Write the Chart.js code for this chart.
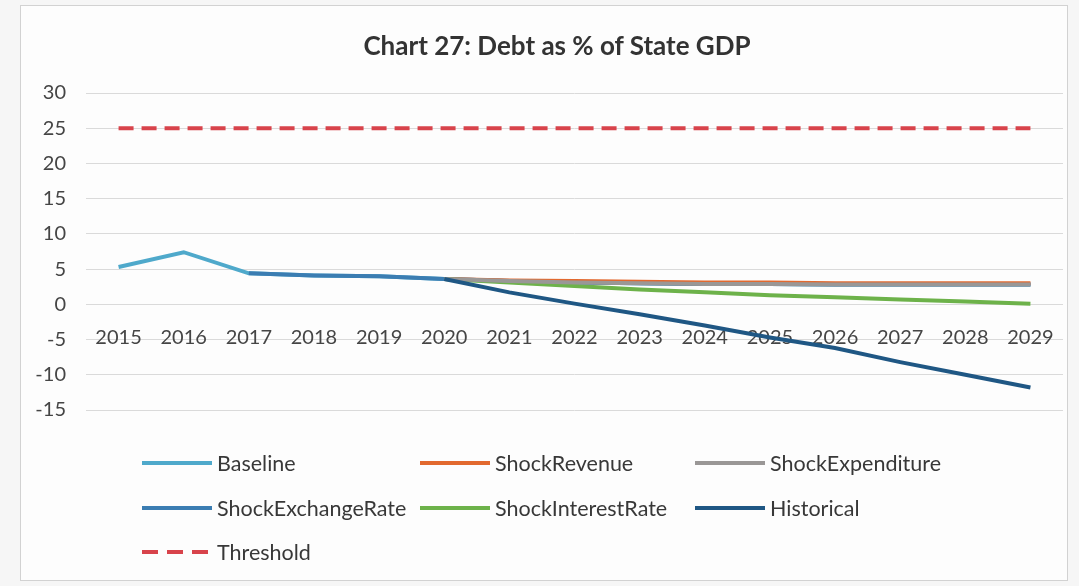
<!DOCTYPE html>
<html>
<head>
<meta charset="utf-8">
<title>Chart 27: Debt as % of State GDP</title>
<script src="https://cdn.jsdelivr.net/npm/chart.js@4/dist/chart.umd.min.js"></script>
<style>
  html, body { margin: 0; padding: 0; background: #f6f6f6; }
  #wrap { position: relative; width: 1079px; height: 586px; overflow: hidden; }
  #frame { position: absolute; left: 20px; top: 5px; width: 1048px; height: 576px;
           border: 1px solid #d2d2d2; background: #fdfdfd; box-sizing: border-box; }
  #chart { position: absolute; left: 0; top: 0; }
  #title { position: absolute; left: 257px; width: 600px; top: 28px; text-align: center;
           font-family: Lato, "Open Sans", sans-serif; font-weight: bold; font-size: 26px;
           line-height: 34px; color: #333333; white-space: nowrap; }
  #legend { position: absolute; left: 0; top: 0; width: 1079px; height: 586px; pointer-events: none;
            font-family: Lato, "Open Sans", sans-serif; font-size: 21.5px; color: #383838; }
  .item { position: absolute; height: 26px; display: flex; align-items: center; white-space: nowrap; }
  .swatch { width: 70px; height: 0; margin-right: 5px; }
</style>
</head>
<body>
<div id="wrap">
  <div id="frame"></div>
  <canvas id="chart" width="1079" height="586"></canvas>
  <div id="title">Chart 27: Debt as % of State GDP</div>
  <div id="legend"></div>
</div>
<script>
// Years on the category axis
const years = ['2015','2016','2017','2018','2019','2020','2021','2022','2023','2024','2025','2026','2027','2028','2029'];

// Debt as % of state GDP, by scenario
const baseline          = [5.3, 7.4, 4.4, 4.1, 4.0, 3.6, 3.3, 3.1, 3.0, 2.9, 2.9, 2.8, 2.8, 2.8, 2.8];
const shockRevenue      = [null, null, null, null, null, 3.6, 3.4, 3.3, 3.2, 3.1, 3.1, 3.0, 3.0, 3.0, 3.0];
const shockExpenditure  = [null, null, null, null, null, 3.6, 3.3, 3.1, 3.0, 2.9, 2.9, 2.8, 2.8, 2.8, 2.8];
const shockExchangeRate = [null, null, 4.4, 4.1, 4.0, 3.6, 3.3, 3.1, 3.0, 2.9, 2.9, 2.8, 2.8, 2.8, 2.8];
const shockInterestRate = [null, null, null, null, null, 3.6, 3.1, 2.6, 2.1, 1.7, 1.3, 1.0, 0.7, 0.4, 0.1];
const historical        = [null, null, null, null, null, 3.6, 1.7, 0.1, -1.4, -3.0, -4.7, -6.2, -8.2, -10.0, -11.8];
const threshold         = [25, 25, 25, 25, 25, 25, 25, 25, 25, 25, 25, 25, 25, 25, 25];

// Y axis range and step
const yMin = -15, yMax = 30, yStep = 5;

const FONT = 'Lato, "Open Sans", sans-serif';

function series(label, data, color, order, dash) {
  return {
    label, data,
    borderColor: color,
    backgroundColor: color,
    borderWidth: 4,
    borderDash: dash || [],
    pointRadius: 0,
    pointHoverRadius: 0,
    tension: 0,
    fill: false,
    spanGaps: false,
    order
  };
}

const datasets = [
  series('Baseline',          baseline,          '#4fa9cb', 7),
  series('ShockRevenue',      shockRevenue,      '#e2692f', 5),
  series('ShockExpenditure',  shockExpenditure,  '#9a9796', 3),
  series('ShockExchangeRate', shockExchangeRate, '#3b7db2', 6),
  series('ShockInterestRate', shockInterestRate, '#6db24a', 4),
  series('Historical',        historical,        '#1f5784', 2),
  series('Threshold',         threshold,         '#d8434b', 1, [15, 8])
];

const chart = new Chart(document.getElementById('chart'), {
  type: 'line',
  data: { labels: years, datasets },
  options: {
    responsive: false,
    devicePixelRatio: 1,
    animation: false,
    layout: { padding: { left: 0, right: 16, top: 93, bottom: 176 } },
    plugins: {
      legend: { display: false },
      tooltip: { enabled: false },
      title: { display: false }
    },
    scales: {
      x: {
        type: 'category',
        position: { y: 0 },
        offset: true,
        grid: { display: false, drawTicks: false },
        border: { display: false },
        ticks: {
          color: '#454545',
          font: { family: FONT, size: 20 },
          padding: 21,
          autoSkip: false,
          maxRotation: 0
        }
      },
      y: {
        min: yMin, max: yMax,
        grid: { color: '#dadada', lineWidth: 1, drawTicks: false },
        border: { display: false },
        ticks: {
          stepSize: yStep,
          color: '#454545',
          font: { family: FONT, size: 20 },
          padding: 20
        },
        afterFit(scale) { scale.width = 86; }
      }
    }
  }
});

// Three-column legend built from the chart's datasets
const legendCols = [142, 420, 695];
const legendRows = [463, 508, 552];
const legendEl = document.getElementById('legend');
chart.data.datasets.forEach((ds, i) => {
  const item = document.createElement('div');
  item.className = 'item';
  item.style.left = legendCols[i % 3] + 'px';
  item.style.top = (legendRows[Math.floor(i / 3)] - 13) + 'px';
  const sw = document.createElement('span');
  sw.className = 'swatch';
  const dashed = ds.borderDash && ds.borderDash.length;
  sw.style.borderTop = '4px solid ' + ds.borderColor;
  if (dashed) {
    sw.style.borderTop = 'none';
    sw.style.height = '4px';
    sw.style.background = 'repeating-linear-gradient(90deg,' + ds.borderColor + ' 0 16px, transparent 16px 25px)';
  }
  const tx = document.createElement('span');
  tx.textContent = ds.label;
  item.appendChild(sw);
  item.appendChild(tx);
  legendEl.appendChild(item);
});
</script>
</body>
</html>
